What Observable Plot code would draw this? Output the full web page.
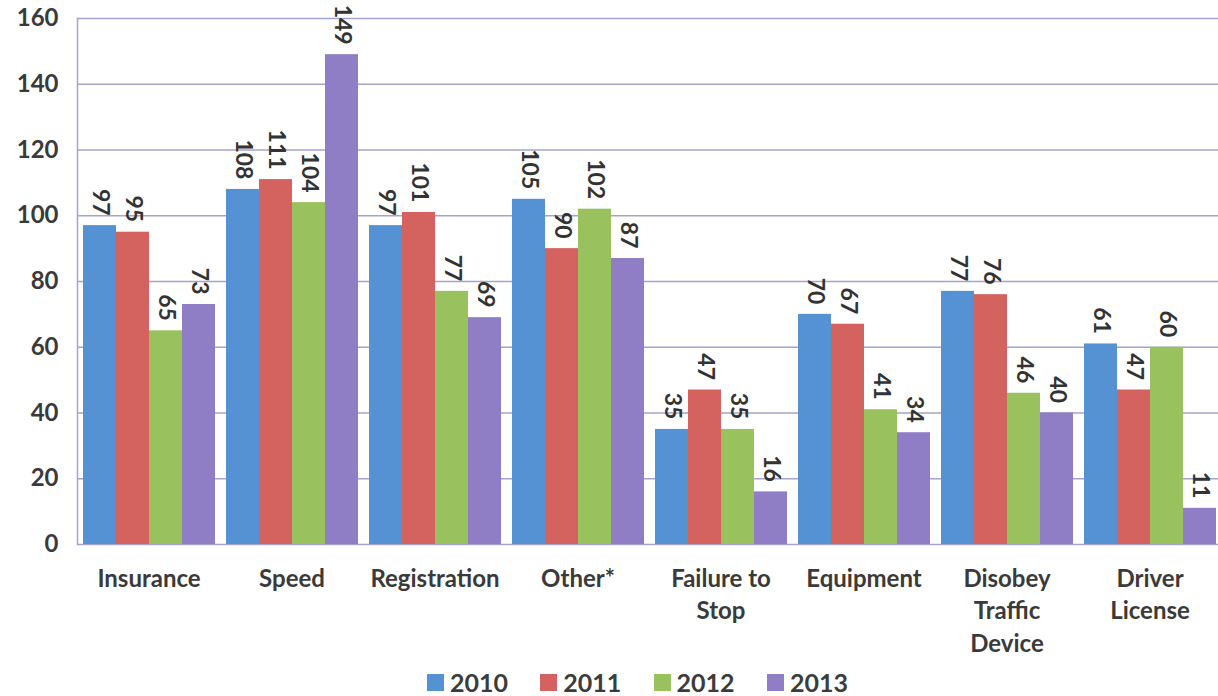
<!DOCTYPE html>
<html><head><meta charset="utf-8">
<script src="https://cdn.jsdelivr.net/npm/d3@7"></script>
<script src="https://cdn.jsdelivr.net/npm/@observablehq/plot@0.6"></script>
<style>
html,body{margin:0;padding:0;background:#fff;overflow:hidden;width:1218px;height:696px}
#chart{position:absolute;left:0;top:0;width:1218px;height:662px;overflow:hidden}
#chart svg{overflow:hidden}
#legend{position:absolute;top:670px;left:427px;display:flex;font-family:Lato,sans-serif;font-weight:bold;font-size:25px;color:#3c3c3c;line-height:24px}
.item{display:flex;align-items:center;width:113.3px}
.sw{width:17px;height:17px;margin-right:6px}
</style></head><body>
<div id="chart"></div><div id="legend"></div>
<script>
const categories = ["Insurance","Speed","Registration","Other*","Failure to\nStop","Equipment","Disobey\nTraffic\nDevice","Driver\nLicense"];
const years = ["2010","2011","2012","2013"];
const v2010 = [97,108,97,105,35,70,77,61];
const v2011 = [95,111,101,90,47,67,76,47];
const v2012 = [65,104,77,102,35,41,46,60];
const v2013 = [73,149,69,87,16,34,40,11];
const colors = ["#5592d4","#d4625f","#99c25f","#8f7dc6"];
const yTicks = [0,20,40,60,80,100,120,140,160];

const series = [v2010,v2011,v2012,v2013];
const data = categories.flatMap((c,i)=>years.map((y,j)=>({category:c, year:y, value:series[j][i]})));

const plot = Plot.plot({
  width:1218, height:662, marginLeft:74, marginRight:-5, marginTop:18, marginBottom:118,
  style:{fontFamily:"Lato, sans-serif", fontWeight:"bold", color:"#3a3a3a", background:"transparent"},
  fx:{domain:categories, paddingInner:0, paddingOuter:0, label:null},
  x:{domain:years, paddingInner:0, paddingOuter:0.165, axis:null},
  y:{domain:[0,160], label:null},
  color:{domain:years, range:colors},
  marks:[
    Plot.ruleY(yTicks, {stroke:"#a4a4cc", strokeWidth:1.5}),
    Plot.barY(data, {fx:"category", x:"year", y:"value", fill:"year"}),
    Plot.text(data, {fx:"category", x:"year", y:"value", text:d=>String(d.value), rotate:90, textAnchor:"end", dy:-10, fontSize:23, fill:"#333"}),
    Plot.axisY({ticks:yTicks, tickSize:0, tickPadding:19, fontSize:24, label:null}),
    Plot.axisFx({anchor:"bottom", tickSize:0, tickPadding:19, fontSize:24, lineHeight:1.36, label:null}),
    Plot.frame({anchor:"left", facetAnchor:"left", stroke:"#a4a4cc", strokeWidth:1.5})
  ]
});
document.getElementById("chart").appendChild(plot);

const legend = document.getElementById("legend");
years.forEach((y,i)=>{
  const it = document.createElement("div"); it.className="item";
  const sw = document.createElement("div"); sw.className="sw"; sw.style.background=colors[i];
  const t = document.createElement("span"); t.textContent=y;
  it.appendChild(sw); it.appendChild(t); legend.appendChild(it);
});
</script>
</body></html>
